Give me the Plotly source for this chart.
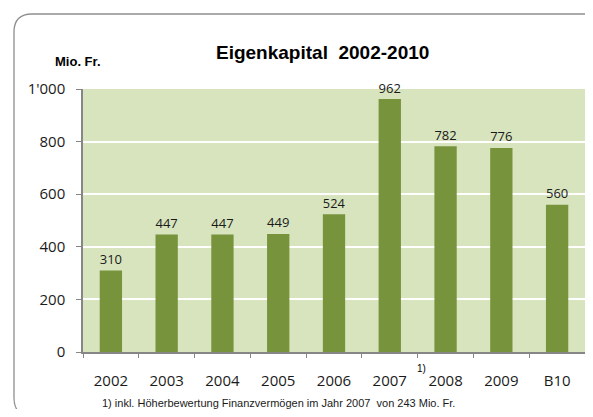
import plotly.graph_objects as go

categories = ["2002", "2003", "2004", "2005", "2006", "2007", "2008", "2009", "B10"]
values = [310, 447, 447, 449, 524, 962, 782, 776, 560]
y_tick_vals = [0, 200, 400, 600, 800, 1000]
y_tick_text = ["0", "200", "400", "600", "800", "1'000"]

title_text = "Eigenkapital  2002-2010"
unit_text = "Mio. Fr."
footnote_text = "1) inkl. Höherbewertung Finanzvermögen im Jahr 2007  von 243 Mio. Fr."
footnote_mark = "1)"

# page body has an 8px margin on every side; work in page pixel coordinates
OFF = 8
W, H = 593 - 2 * OFF, 417 - 2 * OFF
PL, PR, PT, PB = 83, 585, 89, 352  # plot area in page pixels
L, T = PL - OFF, PT - OFF
R, B = W - (PR - OFF), H - (PB - OFF)
PW, PH = W - L - R, H - T - B


def px(x):
    return (x - OFF - L) / PW


def py(y):
    return (H - B - (y - OFF)) / PH


fig = go.Figure(
    go.Bar(
        x=categories,
        y=values,
        width=0.4,
        marker=dict(color="#77933C", line=dict(width=0)),
        text=[str(v) for v in values],
        textposition="outside",
        textfont=dict(family="Open Sans", size=15, color="#1a1a1a"),
        cliponaxis=False,
        hoverinfo="skip",
    )
)

# rounded border frame (right and bottom edges fall outside the window)
x0, y0, x1, y1, r = 14, 14, 620, 416, 18
path = (
    f"M {px(x1)},{py(y1)} "
    f"L {px(x0 + r)},{py(y1)} "
    f"Q {px(x0)},{py(y1)} {px(x0)},{py(y1 - r)} "
    f"L {px(x0)},{py(y0 + r)} "
    f"Q {px(x0)},{py(y0)} {px(x0 + r)},{py(y0)} "
    f"L {px(x1)},{py(y0)}"
)

fig.update_layout(
    width=W,
    height=H,
    margin=dict(l=L, r=R, t=T, b=B),
    paper_bgcolor="white",
    plot_bgcolor="#D7E4BD",
    showlegend=False,
    shapes=[
        dict(
            type="path",
            path=path,
            xref="paper",
            yref="paper",
            line=dict(color="#8F8F8F", width=1.3),
            layer="below",
        )
    ],
    annotations=[
        dict(
            text=f"<b>{title_text}</b>",
            x=px(322), y=py(52), xref="paper", yref="paper",
            xanchor="center", yanchor="middle", showarrow=False,
            font=dict(family="Liberation Sans", size=19, color="#000000"),
        ),
        dict(
            text=f"<b>{unit_text}</b>",
            x=px(53), y=py(62), xref="paper", yref="paper",
            xanchor="left", yanchor="middle", showarrow=False,
            font=dict(family="Liberation Sans", size=13, color="#000000"),
        ),
        dict(
            text=footnote_mark,
            x=px(421), y=py(368), xref="paper", yref="paper",
            xanchor="center", yanchor="middle", showarrow=False,
            font=dict(family="Liberation Sans", size=10, color="#000000"),
        ),
        dict(
            text=footnote_text,
            x=px(100), y=py(403), xref="paper", yref="paper",
            xanchor="left", yanchor="middle", showarrow=False,
            font=dict(family="Liberation Sans", size=11, color="#1a1a1a"),
        ),
    ],
)

fig.update_xaxes(
    type="category",
    range=[-0.5, len(categories) - 0.5],
    showgrid=False,
    showline=True,
    linecolor="#868686",
    linewidth=1.5,
    ticks="outside",
    tickson="boundaries",
    ticklen=4,
    tickcolor="#868686",
    tickwidth=1.2,
    ticklabelstandoff=14,
    tickfont=dict(family="Open Sans", size=15, color="#1a1a1a"),
    fixedrange=True,
)

fig.update_yaxes(
    range=[0, 1000],
    tickvals=y_tick_vals,
    ticktext=y_tick_text,
    showgrid=True,
    gridcolor="#FFFFFF",
    gridwidth=1.5,
    zeroline=False,
    showline=True,
    linecolor="#868686",
    linewidth=1.5,
    ticks="outside",
    ticklen=5,
    tickcolor="#868686",
    tickwidth=1.2,
    ticklabelstandoff=8,
    tickfont=dict(family="Open Sans", size=15, color="#1a1a1a"),
    fixedrange=True,
)

fig.write_html("out.html", config={"displayModeBar": False})
